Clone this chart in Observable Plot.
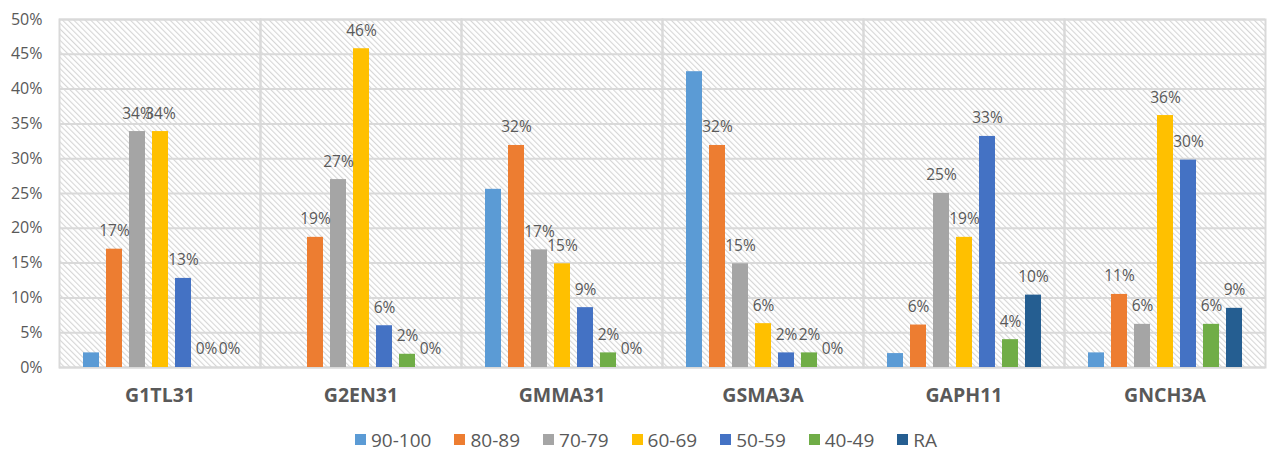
<!DOCTYPE html>
<html>
<head>
<meta charset="utf-8">
<script src="https://cdn.jsdelivr.net/npm/d3@7"></script>
<script src="https://cdn.jsdelivr.net/npm/@observablehq/plot@0.6"></script>
<style>
  body { margin: 0; background: #fff; }
  #chart { width: 1274px; }
  #chart div[class*="-swatches"] { font-size: 19px !important; font-family: "Open Sans", "Liberation Sans", sans-serif !important; color: #595959 !important; }
  #chart span[class$="-swatch"] { margin-right: 23px !important; }
  #chart span[class$="-swatch"] > svg { margin-right: 5px !important; }
</style>
</head>
<body>
<div id="chart"></div>
<script>
const groups = ["G1TL31", "G2EN31", "GMMA31", "GSMA3A", "GAPH11", "GNCH3A"];
const series = ["90-100", "80-89", "70-79", "60-69", "50-59", "40-49", "RA"];
const seriesColors = ["#5B9BD5", "#ED7D31", "#A5A5A5", "#FFC000", "#4472C4", "#70AD47", "#255E91"];

const s90_100 = [2.1, 0, 25.6, 42.5, 2.0, 2.1];
const s80_89  = [17.0, 18.7, 31.9, 31.9, 6.1, 10.5];
const s70_79  = [33.9, 27.0, 16.9, 14.9, 25.0, 6.2];
const s60_69  = [33.9, 45.8, 14.9, 6.3, 18.7, 36.2];
const s50_59  = [12.8, 6.0, 8.6, 2.1, 33.2, 29.8];
const s40_49  = [0, 1.9, 2.1, 2.1, 4.0, 6.2];
const sRA     = [0, 0, 0, 0, 10.4, 8.5];

const yTicks = [0, 5, 10, 15, 20, 25, 30, 35, 40, 45, 50];
const labelledSeries = ["80-89", "70-79", "60-69", "50-59", "40-49", "RA"];

const seriesValues = [s90_100, s80_89, s70_79, s60_69, s50_59, s40_49, sRA];
const data = [];
groups.forEach((g, gi) => {
  series.forEach((s, si) => {
    data.push({group: g, series: s, value: seriesValues[si][gi]});
  });
});

const textColor = "#595959";
const gridColor = "#D9D9D9";
const font = "Open Sans, Liberation Sans, sans-serif";

const chart = Plot.plot({
  width: 1274,
  height: 420,
  marginLeft: 57,
  marginRight: 7,
  marginTop: 19,
  marginBottom: 53,
  style: {fontFamily: font, fontSize: "15px", color: textColor, background: "#fff", overflow: "visible"},
  fx: {domain: groups, padding: 0},
  x: {domain: series, paddingInner: 0.32, paddingOuter: 0.96, axis: null},
  y: {domain: [0, 50]},
  color: {domain: series, range: seriesColors},
  marks: [
    Plot.frame({fill: "url(#hatch)", stroke: null}),
    Plot.gridY(yTicks, {stroke: gridColor, strokeOpacity: 1, strokeWidth: 2}),
    Plot.frame({stroke: gridColor, strokeWidth: 2}),
    Plot.barY(data, {fx: "group", x: "series", y: "value", fill: "series"}),
    Plot.text(data.filter(d => labelledSeries.includes(d.series)), {
      fx: "group", x: "series", y: "value",
      text: d => Math.round(d.value) + "%",
      dy: -18, fill: textColor, fontSize: 15.5
    }),
    Plot.axisY(yTicks, {tickSize: 0, tickPadding: 17, tickFormat: d => d + "%", label: null, fontSize: 16, fill: textColor}),
    Plot.axisFx({anchor: "bottom", tickSize: 0, tickPadding: 21, label: null, fontSize: 19.5, fontWeight: "bold", fill: textColor})
  ]
});

// hatch pattern for the plot area
const defs = d3.select(chart).insert("defs", ":first-child");
const pat = defs.append("pattern")
  .attr("id", "hatch")
  .attr("patternUnits", "userSpaceOnUse")
  .attr("width", 4)
  .attr("height", 4)
  .attr("patternTransform", "rotate(-45)");
pat.append("rect").attr("width", 4).attr("height", 4).attr("fill", "#fff");
pat.append("line").attr("x1", 0.5).attr("y1", 0).attr("x2", 0.5).attr("y2", 4)
  .attr("stroke", "#D6D6D6").attr("stroke-width", 1.2);

document.getElementById("chart").appendChild(chart);

const legend = Plot.legend({
  color: {domain: series, range: seriesColors, type: "ordinal"},
  swatchSize: 11
});
legend.style.marginLeft = "355px";
legend.style.marginTop = "3px";
document.getElementById("chart").appendChild(legend);
</script>
</body>
</html>
